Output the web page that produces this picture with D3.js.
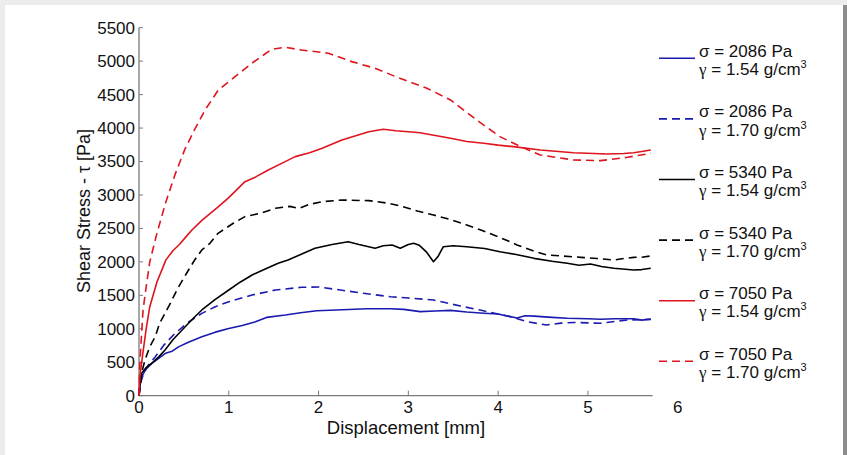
<!DOCTYPE html>
<html>
<head>
<meta charset="utf-8">
<script src="https://cdn.jsdelivr.net/npm/d3@7"></script>
<style>
  body { margin: 0; background: #ececec; }
  svg { display: block; font-family: "Liberation Sans", Arial, sans-serif; }
</style>
</head>
<body>
<svg id="myPlot" width="847" height="455"></svg>

<script>
// Data: [displacement mm, shear stress Pa]
const s2086_154 = [[0,0],[0.01,150],[0.03,290],[0.08,400],[0.14,480],[0.2,540],[0.29,630],[0.33,650],[0.37,665],[0.44,730],[0.55,800],[0.7,880],[0.85,950],[1.0,1005],[1.15,1050],[1.29,1100],[1.42,1170],[1.63,1205],[1.8,1240],[1.98,1270],[2.2,1280],[2.54,1300],[2.8,1300],[2.95,1290],[3.13,1256],[3.3,1265],[3.47,1275],[3.65,1250],[3.84,1232],[4.0,1220],[4.21,1160],[4.3,1195],[4.4,1190],[4.6,1170],[4.77,1157],[5.0,1150],[5.14,1142],[5.3,1150],[5.51,1150],[5.6,1130],[5.7,1145]];
const s2086_170 = [[0,0],[0.02,200],[0.05,330],[0.1,450],[0.18,580],[0.28,760],[0.4,930],[0.55,1100],[0.7,1230],[0.85,1330],[1.0,1405],[1.26,1505],[1.52,1580],[1.81,1620],[2.0,1625],[2.19,1590],[2.5,1530],[2.8,1480],[3.0,1460],[3.28,1430],[3.58,1340],[3.8,1280],[3.95,1235],[4.14,1181],[4.32,1106],[4.54,1057],[4.7,1085],[4.84,1095],[5.14,1082],[5.3,1110],[5.44,1131],[5.7,1140]];
const s5340_154 = [[0,0],[0.01,150],[0.03,335],[0.08,420],[0.14,484],[0.22,580],[0.29,683],[0.38,840],[0.48,982],[0.6,1150],[0.7,1281],[0.85,1440],[1.0,1580],[1.13,1700],[1.26,1804],[1.4,1890],[1.55,1979],[1.66,2028],[1.8,2110],[1.96,2203],[2.15,2260],[2.33,2302],[2.45,2260],[2.63,2203],[2.72,2240],[2.82,2252],[2.91,2203],[3.0,2260],[3.06,2278],[3.12,2250],[3.2,2150],[3.28,2003],[3.33,2080],[3.39,2227],[3.5,2240],[3.65,2227],[3.85,2200],[4.02,2152],[4.2,2110],[4.4,2053],[4.6,2010],[4.77,1979],[4.9,1950],[5.03,1969],[5.15,1930],[5.29,1904],[5.51,1879],[5.6,1885],[5.7,1904]];
const s5340_170 = [[0,0],[0.03,350],[0.067,534],[0.12,733],[0.18,882],[0.23,1082],[0.31,1281],[0.35,1385],[0.43,1600],[0.53,1830],[0.62,2028],[0.7,2178],[0.79,2278],[0.88,2427],[1.05,2577],[1.18,2676],[1.35,2726],[1.52,2801],[1.68,2830],[1.78,2800],[1.9,2860],[2.04,2900],[2.26,2925],[2.56,2915],[2.78,2876],[2.91,2835],[3.1,2760],[3.28,2701],[3.45,2640],[3.65,2552],[3.8,2480],[3.95,2402],[4.1,2320],[4.21,2253],[4.4,2160],[4.54,2103],[4.7,2090],[4.92,2068],[5.1,2050],[5.29,2028],[5.4,2050],[5.51,2068],[5.6,2070],[5.7,2088]];
const s7050_154 = [[0,0],[0.01,300],[0.03,500],[0.048,683],[0.08,1000],[0.12,1330],[0.2,1700],[0.3,2030],[0.38,2170],[0.45,2260],[0.52,2370],[0.59,2477],[0.7,2620],[0.885,2825],[1.0,2960],[1.18,3199],[1.3,3270],[1.44,3374],[1.6,3480],[1.74,3573],[1.9,3630],[2.04,3698],[2.26,3822],[2.45,3900],[2.56,3946],[2.72,3982],[2.86,3960],[3.0,3946],[3.13,3931],[3.3,3890],[3.47,3847],[3.65,3800],[3.84,3772],[4.0,3745],[4.17,3722],[4.47,3673],[4.84,3632],[5.21,3613],[5.4,3620],[5.51,3632],[5.6,3650],[5.7,3673]];
const s7050_170 = [[0,0],[0.01,500],[0.045,1281],[0.086,1684],[0.12,2000],[0.2,2430],[0.3,2900],[0.4,3300],[0.51,3680],[0.62,3980],[0.736,4270],[0.884,4570],[1.07,4768],[1.256,4968],[1.48,5178],[1.63,5207],[1.81,5167],[2.11,5118],[2.37,4993],[2.63,4893],[2.86,4768],[3.2,4600],[3.47,4420],[3.76,4121],[4.02,3872],[4.25,3722],[4.47,3598],[4.84,3523],[5.14,3513],[5.44,3563],[5.7,3623]];

const seriesData = [s2086_154, s2086_170, s5340_154, s5340_170, s7050_154, s7050_170];
const sigmaLabels = ["2086", "2086", "5340", "5340", "7050", "7050"];
const gammaLabels = ["1.54", "1.70", "1.54", "1.70", "1.54", "1.70"];
const colors = ["#1a1ab0", "#1a1ab0", "#000000", "#000000", "#e0141e", "#e0141e"];
const dashed = [false, true, false, true, false, true];

const xTicks = [0, 1, 2, 3, 4, 5, 6];
const yTicks = [0, 500, 1000, 1500, 2000, 2500, 3000, 3500, 4000, 4500, 5000, 5500];
const xAxisEnd = 5.72;

const svg = d3.select("#myPlot");

// page frame
svg.append("rect").attr("x", 5).attr("y", 5).attr("width", 838).attr("height", 450).attr("fill", "#fff");
svg.append("rect").attr("x", 843).attr("y", 5).attr("width", 4).attr("height", 450).attr("fill", "#8c8c8c");

// Scales
const xScale = d3.scaleLinear().domain([0, 6]).range([139, 677.7]);
const yScale = d3.scaleLinear().domain([0, 5500]).range([395.7, 27.7]);

const axisColor = "#7a7a7a";

// X Axis
const gx = svg.append("g").attr("transform", "translate(0," + yScale(0) + ")");
gx.append("line")
  .attr("x1", xScale(0)).attr("x2", xScale(xAxisEnd))
  .attr("stroke", axisColor).attr("stroke-width", 1.3);
const xt = gx.selectAll(".xt").data(xTicks).enter().append("g")
  .attr("transform", d => "translate(" + xScale(d) + ",0)");
xt.filter(d => d <= xAxisEnd).append("line")
  .attr("y2", -5).attr("stroke", axisColor).attr("stroke-width", 1);
xt.append("text")
  .attr("y", 17).attr("text-anchor", "middle")
  .attr("font-size", "17px").attr("fill", "#111")
  .text(d => d);

// Y Axis
const gy = svg.append("g").attr("transform", "translate(" + xScale(0) + ",0)");
gy.append("line")
  .attr("y1", yScale(0)).attr("y2", yScale(5500))
  .attr("stroke", axisColor).attr("stroke-width", 1.3);
const yt = gy.selectAll(".yt").data(yTicks).enter().append("g")
  .attr("transform", d => "translate(0," + yScale(d) + ")");
yt.append("line").attr("x2", 4).attr("stroke", axisColor).attr("stroke-width", 1);
yt.append("text")
  .attr("x", -4).attr("dy", "0.35em").attr("text-anchor", "end")
  .attr("font-size", "17px").attr("fill", "#111")
  .text(d => d);

// Axis labels
svg.append("text")
  .attr("x", 406).attr("y", 434)
  .attr("text-anchor", "middle").attr("font-size", "18.5px").attr("fill", "#111")
  .text("Displacement [mm]");
svg.append("text")
  .attr("transform", "translate(90,211) rotate(-90)")
  .attr("text-anchor", "middle").attr("font-size", "18px").attr("fill", "#111")
  .text("Shear Stress - τ [Pa]");

// Lines
const line = d3.line()
  .x(d => xScale(d[0]))
  .y(d => yScale(d[1]));

svg.append("g").selectAll("path")
  .data(seriesData).enter()
  .append("path")
  .attr("d", line)
  .attr("fill", "none")
  .attr("stroke", (d, i) => colors[i])
  .attr("stroke-width", 1.6)
  .attr("stroke-dasharray", (d, i) => dashed[i] ? "8,5" : null)
  .attr("stroke-linejoin", "round");

// Legend
const legend = svg.append("g").selectAll("g")
  .data(seriesData).enter().append("g")
  .attr("transform", (d, i) => "translate(0," + (56.7 + i * 60.6) + ")");
legend.append("line")
  .attr("x1", 659).attr("x2", 695).attr("y1", 1.6).attr("y2", 1.6)
  .attr("stroke", (d, i) => colors[i])
  .attr("stroke-width", 1.6)
  .attr("stroke-dasharray", (d, i) => dashed[i] ? "8,5" : null);
legend.append("text")
  .attr("x", 699).attr("y", 0)
  .attr("font-size", "17px").attr("fill", "#111")
  .text((d, i) => "σ = " + sigmaLabels[i] + " Pa");
const g2 = legend.append("text")
  .attr("x", 699).attr("y", 18.3)
  .attr("font-size", "17px").attr("fill", "#111");
g2.append("tspan").attr("font-family", "'Liberation Serif', serif").text("γ");
g2.append("tspan").text((d, i) => " = " + gammaLabels[i] + " g/cm");
g2.append("tspan").attr("dy", -7).attr("font-size", "11px").text("3");
</script>
</body>
</html>
